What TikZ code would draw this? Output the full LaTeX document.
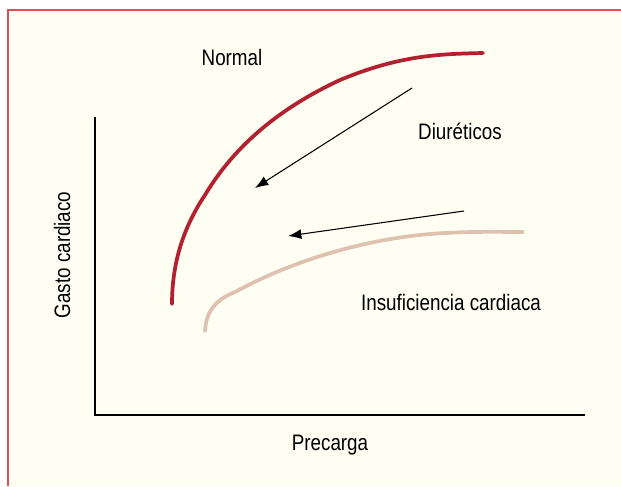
\documentclass[tikz,border=0pt]{standalone}
\usepackage{fontspec}
\setmainfont{Liberation Sans}[FakeStretch=0.84]
\usetikzlibrary{arrows.meta}
\definecolor{marco}{HTML}{D8505C}
\definecolor{fondo}{HTML}{FEFEF2}
\definecolor{rojo}{HTML}{B3202F}
\definecolor{beige}{HTML}{DFC1AF}
\tikzstyle{label}=[font=\fontsize{16.8}{19}\selectfont,inner sep=0pt]
\tikzstyle{curva}=[line width=2.8pt,line cap=round]
\tikzstyle{flecha}=[thick,-{Latex[length=10pt,width=7.5pt]}]

\begin{document}
\begin{tikzpicture}[x=0.75pt,y=-0.75pt]
    \useasboundingbox (0,0) rectangle (621,486);
    \fill[white] (0,0) rectangle (621,486);
    \fill[fondo] (8,10) rectangle (621,486);
    \draw[marco,thick] (8,486) -- (8,10) -- (621,10);
    % ejes
    \coordinate (origen) at (95,415);
    \draw[thick] (95,117) -- (origen) -- (585,415);
    \node[label,rotate=90] (ylab) at (62,255) {Gasto cardiaco};
    \node[label] (xlab) at (330,445) {Precarga};
    % curvas
    \draw[curva,rojo] (172,304) .. controls (172,260) and (185,225) .. (205,195)
        .. controls (235,145) and (280,108) .. (340,80)
        .. controls (400,55) and (440,54) .. (483,53);
    \draw[curva,beige] (205,331) .. controls (206,312) and (215,300) .. (235,292)
        .. controls (290,262) and (360,240) .. (430,234)
        .. controls (470,231) and (500,232) .. (523,232);
    \node[label] (normal) at (232,57) {Normal};
    \node[label] (diur) at (460,131) {Diuréticos};
    \node[label] (insuf) at (451,302) {Insuficiencia cardiaca};
    % flechas
    \coordinate (a1) at (412,88);
    \coordinate (b1) at (255,188);
    \coordinate (a2) at (464,211);
    \coordinate (b2) at (288,236);
    \draw[flecha] (a1) -- (b1);
    \draw[flecha] (a2) -- (b2);
\end{tikzpicture}
\end{document}
